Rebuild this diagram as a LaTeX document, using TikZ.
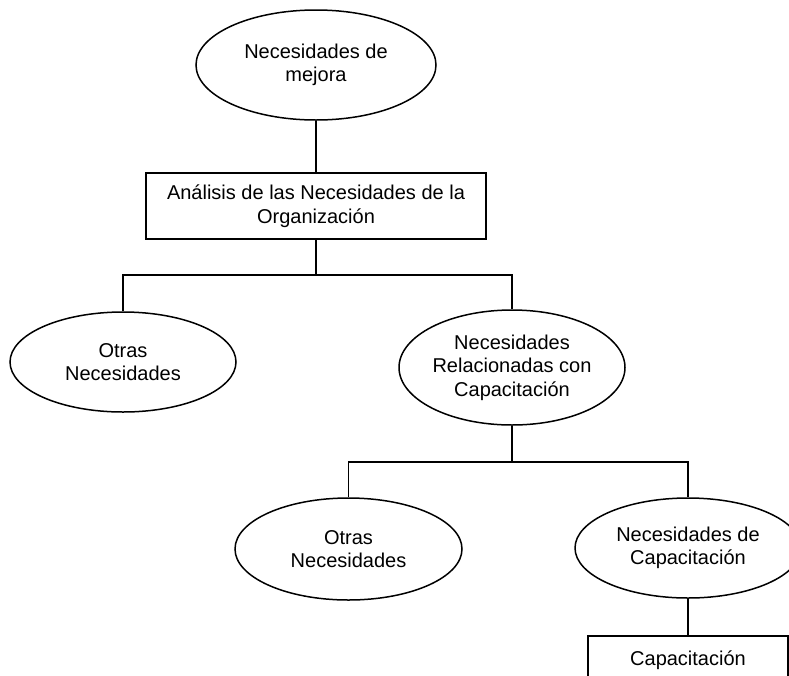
\documentclass[tikz,border=0pt]{standalone}
\usepackage{fontspec}
\setmainfont{Liberation Sans}
\usetikzlibrary{shapes.geometric}
\begin{document}
\begin{tikzpicture}[x=1pt,y=-1pt,
  every node/.style={font=\fontsize{20}{23.5}\selectfont, align=center, inner sep=0pt},
  oval/.style={draw, ellipse, line width=1.5pt},
  stepbox/.style={draw, rectangle, line width=1.5pt},
  link/.style={draw, line width=1.5pt}]
  \useasboundingbox (0,0) rectangle (789,675);
  \clip (0,0) rectangle (789,675);

  % top level
  \node[oval, minimum width=240, minimum height=110] (mejora) at (316,65)
    {Necesidades de\\mejora};
  \node[stepbox, minimum width=340, minimum height=66] (analisis) at (316,206)
    {Análisis de las Necesidades de la\\Organización};

  % second level
  \node[oval, minimum width=226, minimum height=100] (otras1) at (123,362)
    {Otras\\Necesidades};
  \node[oval, minimum width=226, minimum height=115] (relac) at (512,367.5)
    {Necesidades\\Relacionadas con\\Capacitación};

  % third level
  \node[oval, minimum width=227, minimum height=102] (otras2) at (348.5,549)
    {Otras\\Necesidades};
  \node[oval, minimum width=226, minimum height=100] (necap) at (688,548)
    {Necesidades de\\Capacitación};
  \node[stepbox, minimum width=200, minimum height=48] (capac) at (688,660)
    {Capacitación};

  % junction points of the branches
  \coordinate (j1) at (316,275);
  \coordinate (j2) at (512,462);

  % connectors
  \path[link] (mejora.south) -- (analisis.north);
  \path[link] (analisis.south) -- (j1);
  \path[link] (otras1.north) |- (j1) -| (relac.north);
  \path[link] (relac.south) -- (j2);
  \path[link] (otras2.north) |- (j2) -| (necap.north);
  \path[link] (necap.south) -- (capac.north);
\end{tikzpicture}
\end{document}
